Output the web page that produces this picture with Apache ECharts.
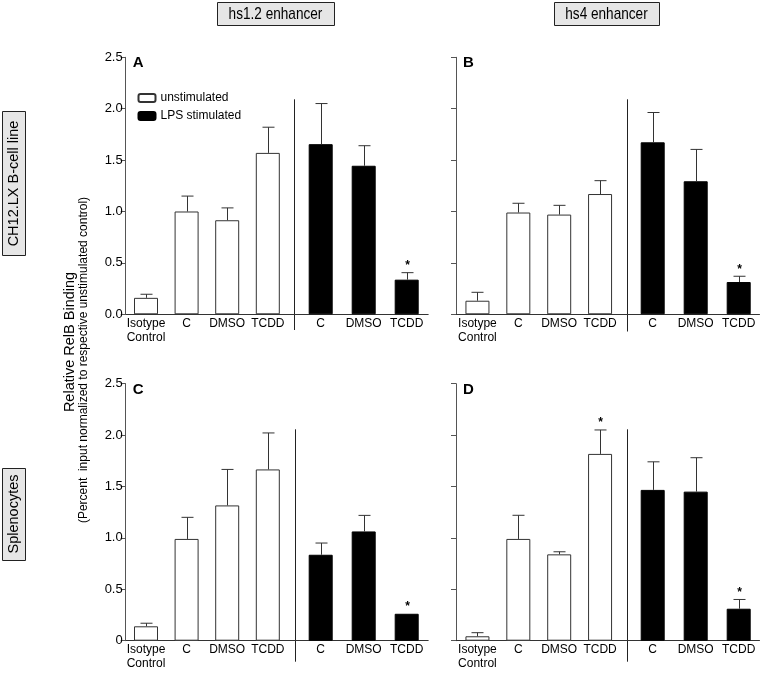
<!DOCTYPE html>
<html>
<head>
<meta charset="utf-8">
<script src="https://cdn.jsdelivr.net/npm/echarts@6/dist/echarts.min.js"></script>
<style>html,body{margin:0;padding:0;background:#fff;}#c{width:760px;height:674px;}</style>
</head>
<body>
<div id="c"></div>
<script>
// ---- data ----
const unstimCats = ['Isotype\nControl', 'C', 'DMSO', 'TCDD'];
const lpsCats = ['C', 'DMSO', 'TCDD'];
const yTicksA = ['0.0', '0.5', '1.0', '1.5', '2.0', '2.5'];
const yTicksC = ['0', '0.5', '1.0', '1.5', '2.0', '2.5'];

const A_unstim = [0.16, 1.00, 0.915, 1.57];
const A_unstimErr = [0.035, 0.15, 0.12, 0.25];
const A_unstimSig = [0, 0, 0, 0];
const A_lps = [1.655, 1.445, 0.337];
const A_lpsErr = [0.395, 0.195, 0.068];
const A_lpsSig = [0, 0, 1];

const B_unstim = [0.132, 0.99, 0.97, 1.17];
const B_unstimErr = [0.082, 0.09, 0.09, 0.13];
const B_unstimSig = [0, 0, 0, 0];
const B_lps = [1.673, 1.294, 0.314];
const B_lpsErr = [0.29, 0.31, 0.056];
const B_lpsSig = [0, 0, 1];

const C_unstim = [0.14, 0.99, 1.316, 1.666];
const C_unstimErr = [0.03, 0.21, 0.35, 0.355];
const C_unstimSig = [0, 0, 0, 0];
const C_lps = [0.836, 1.063, 0.262];
const C_lpsErr = [0.114, 0.156, 0];
const C_lpsSig = [0, 0, 1];

const D_unstim = [0.043, 0.99, 0.84, 1.817];
const D_unstimErr = [0.035, 0.23, 0.025, 0.233];
const D_unstimSig = [0, 0, 0, 1];
const D_lps = [1.467, 1.45, 0.311];
const D_lpsErr = [0.273, 0.33, 0.09];
const D_lpsSig = [0, 0, 1];

// ---- layout ----
const FONT = '"Liberation Sans", Arial, Helvetica, sans-serif';
const H = 257;
const panels = [
  {letter:'A', top:57.3, fL:125.7, fW:302.5, lL:125.7, lW:162.4, rL:299.2, rW:129, div:294.3, dT:99.3, dB:330, ticks:yTicksA,
   u:A_unstim, ue:A_unstimErr, us:A_unstimSig, l:A_lps, le:A_lpsErr, ls:A_lpsSig},
  {letter:'B', top:57.3, fL:456, fW:303.5, lL:457, lW:163.5, rL:631.2, rW:129, div:626.7, dT:99.3, dB:331.5, ticks:null,
   u:B_unstim, ue:B_unstimErr, us:B_unstimSig, l:B_lps, le:B_lpsErr, ls:B_lpsSig},
  {letter:'C', top:383.7, fL:125.7, fW:302.5, lL:125.7, lW:162.4, rL:299.2, rW:129, div:295, dT:429.3, dB:661.7, ticks:yTicksC,
   u:C_unstim, ue:C_unstimErr, us:C_unstimSig, l:C_lps, le:C_lpsErr, ls:C_lpsSig},
  {letter:'D', top:383.7, fL:456, fW:303.5, lL:457, lW:163.5, rL:631.2, rW:129, div:626.7, dT:429.3, dB:661.7, ticks:null,
   u:D_unstim, ue:D_unstimErr, us:D_unstimSig, l:D_lps, le:D_lpsErr, ls:D_lpsSig}
];

function errRender(params, api) {
  const i = api.value(0), v = api.value(1), e = api.value(2), s = api.value(3);
  const base = api.coord([i, v]);
  const top = api.coord([i, v + e]);
  const x = Math.round(top[0]) + 0.5;
  const children = [];
  if (e > 0) {
    children.push({type:'line', shape:{x1:x, y1:base[1], x2:x, y2:top[1]}, style:{stroke:'#333', lineWidth:1}});
    children.push({type:'line', shape:{x1:x-6, y1:top[1], x2:x+6, y2:top[1]}, style:{stroke:'#333', lineWidth:1}});
  }
  if (s) {
    children.push({type:'text', style:{text:'*', x:x, y:top[1] - 7, textAlign:'center', textVerticalAlign:'middle', font:'bold 12px ' + FONT, fill:'#000'}});
  }
  return {type:'group', children:children};
}

const grid = [], xAxis = [], yAxis = [], series = [], graphic = [];
panels.forEach((p, k) => {
  const g0 = k * 3;
  grid.push({left:p.fL, top:p.top, width:p.fW, height:H, outerBoundsMode:'none'});
  grid.push({left:p.lL, top:p.top, width:p.lW, height:H, outerBoundsMode:'none'});
  grid.push({left:p.rL, top:p.top, width:p.rW, height:H, outerBoundsMode:'none'});
  // full-width axes (baseline + y axis)
  xAxis.push({gridIndex:g0, type:'value', min:0, max:1, axisLine:{show:true, lineStyle:{color:'#333', width:1}},
    axisTick:{show:false}, axisLabel:{show:false}, splitLine:{show:false}});
  yAxis.push({gridIndex:g0, type:'value', min:0, max:2.5, interval:0.5,
    axisLine:{show:true, lineStyle:{color:'#555', width:1}},
    axisTick:{show:true, length:5, lineStyle:{color:'#555'}},
    splitLine:{show:false},
    axisLabel:{show:!!p.ticks, fontSize:13, color:'#000', fontFamily:FONT, margin:3,
      formatter:(function(t){ return function(v, i){ return t ? t[i] : ''; }; })(p.ticks)}});
  // category axes for the two groups
  [[unstimCats, g0 + 1], [lpsCats, g0 + 2]].forEach(function(c){
    xAxis.push({gridIndex:c[1], type:'category', data:c[0], axisLine:{show:false}, axisTick:{show:false},
      axisLabel:{interval:0, fontSize:12, color:'#000', fontFamily:FONT, margin:2, lineHeight:14}, splitLine:{show:false}});
    yAxis.push({gridIndex:c[1], type:'value', min:0, max:2.5, interval:0.5, show:false});
  });
  series.push({type:'bar', name:'unstimulated', xAxisIndex:g0+1, yAxisIndex:g0+1, data:p.u, barWidth:24,
    itemStyle:{color:'#fff', borderColor:'#333', borderWidth:1}, silent:true, z:2});
  series.push({type:'bar', name:'LPS stimulated', xAxisIndex:g0+2, yAxisIndex:g0+2, data:p.l, barWidth:24,
    itemStyle:{color:'#000', borderColor:'#000', borderWidth:1}, silent:true, z:2});
  series.push({type:'custom', xAxisIndex:g0+1, yAxisIndex:g0+1, renderItem:errRender, z:3, silent:true,
    encode:{x:0, y:1}, data:p.u.map(function(v, i){ return [i, v, p.ue[i], p.us[i]]; })});
  series.push({type:'custom', xAxisIndex:g0+2, yAxisIndex:g0+2, renderItem:errRender, z:3, silent:true,
    encode:{x:0, y:1}, data:p.l.map(function(v, i){ return [i, v, p.le[i], p.ls[i]]; })});
  // divider line
  graphic.push({type:'line', shape:{x1:Math.round(p.div)+0.5, y1:p.dT, x2:Math.round(p.div)+0.5, y2:p.dB}, style:{stroke:'#222', lineWidth:1}, silent:true});
  // panel letter
  graphic.push({type:'text', x:p.fL + 7, y:p.top + 6, style:{text:p.letter, font:'bold 15px ' + FONT, fill:'#000', textAlign:'left', textVerticalAlign:'middle'}});
});

// header boxes
function box(x, y, w, h) {
  return {type:'rect', shape:{x:x + 0.5, y:y + 0.5, width:w, height:h}, style:{fill:'#e6e6e6', stroke:'#222', lineWidth:1}, silent:true};
}
graphic.push(box(217, 2, 117, 23));
graphic.push({type:'text', x:275.5, y:14, scaleX:0.8, style:{text:'hs1.2 enhancer', font:'17px ' + FONT, fill:'#000', textAlign:'center', textVerticalAlign:'middle'}});
graphic.push(box(554, 2, 105, 23));
graphic.push({type:'text', x:606.5, y:14, scaleX:0.8, style:{text:'hs4 enhancer', font:'17px ' + FONT, fill:'#000', textAlign:'center', textVerticalAlign:'middle'}});
// side boxes
graphic.push(box(2, 111, 23, 144));
graphic.push({type:'text', x:14, y:183.5, rotation:Math.PI/2, style:{text:'CH12.LX B-cell line', font:'14.5px ' + FONT, fill:'#000', textAlign:'center', textVerticalAlign:'middle'}});
graphic.push(box(2, 468, 23, 92));
graphic.push({type:'text', x:14, y:514, rotation:Math.PI/2, style:{text:'Splenocytes', font:'14.5px ' + FONT, fill:'#000', textAlign:'center', textVerticalAlign:'middle'}});
// y-axis title
graphic.push({type:'text', x:70, y:342, rotation:Math.PI/2, style:{text:'Relative RelB Binding', font:'14.5px ' + FONT, fill:'#000', textAlign:'center', textVerticalAlign:'middle'}});
graphic.push({type:'text', x:84, y:360, rotation:Math.PI/2, style:{text:'(Percent  input normalized to respective unstimulated control)', font:'12px ' + FONT, fill:'#000', textAlign:'center', textVerticalAlign:'middle'}});

const option = {
  animation:false,
  backgroundColor:'#fff',
  textStyle:{fontFamily:FONT},
  grid:grid, xAxis:xAxis, yAxis:yAxis, series:series, graphic:graphic,
  legend:{data:['unstimulated', 'LPS stimulated'], orient:'vertical', left:137.5, top:92, padding:0,
    itemWidth:17, itemHeight:8, itemGap:6, selectedMode:false,
    textStyle:{fontSize:12, color:'#000', fontFamily:FONT}}
};
const chart = echarts.init(document.getElementById('c'), null, {renderer:'canvas'});
chart.setOption(option);
</script>
</body>
</html>
